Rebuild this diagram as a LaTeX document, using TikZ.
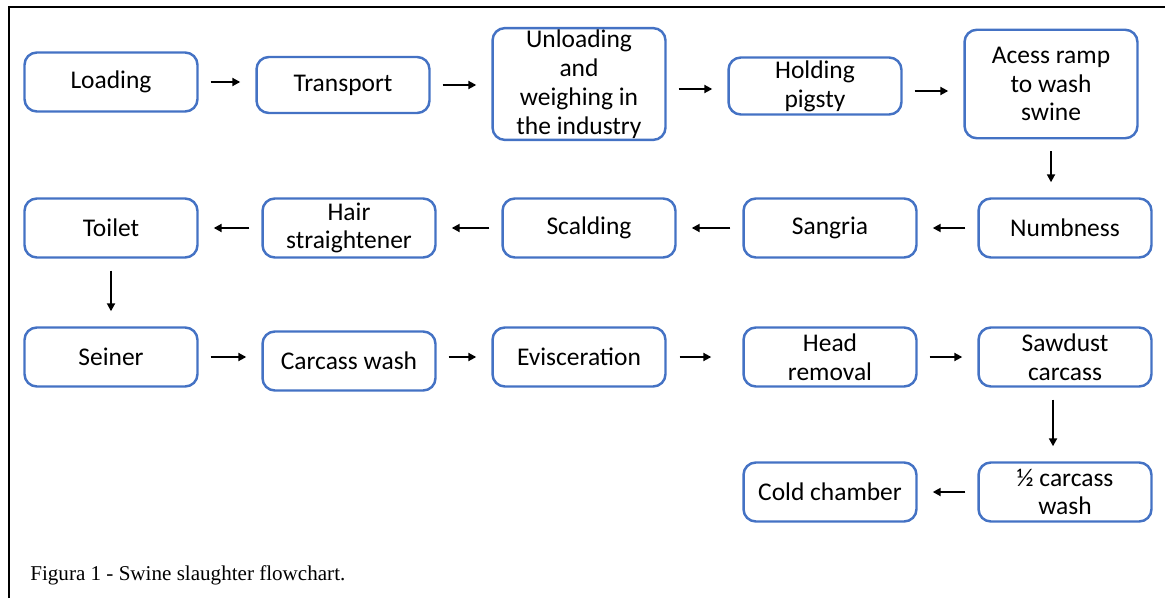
\documentclass[tikz,border=0pt]{standalone}
\usepackage{fontspec}
\setmainfont{Carlito}
\newfontfamily\captionfont{Liberation Serif}
\usetikzlibrary{arrows.meta, positioning}
\definecolor{Boxblue}{RGB}{68,114,196}

\begin{document}
\begin{tikzpicture}[x=0.02cm, y=-0.02cm,
  blk/.style ={rectangle, rounded corners=7pt,
               draw=Boxblue, line width=1.4pt, fill=white,
               minimum width=3.46cm, minimum height=1.18cm,
               inner sep=1pt, align=center,
               font=\fontsize{14.5}{16.4}\selectfont},
  tall/.style={blk, minimum height=2.17cm},
  arr/.style ={-{Stealth[length=4.5pt, width=4.5pt, inset=0pt]},
               line width=1.1pt, shorten <=0.24cm, shorten >=0.3cm},
]
\useasboundingbox (0,0) rectangle (1165,598);

%% frame
\draw[line width=0.8pt] (9,598) -- (9,7) -- (1165,7);

%% row 1
\node[blk]  (loading)   at (111,82)  {Loading};
\node[blk, minimum height=1.12cm]
            (transport) at (343,85)  {Transport};
\node[tall] (unloading) at (579,84)  {Unloading\\and\\weighing in\\the industry};
\node[blk, minimum height=1.14cm]
            (holding)   at (815,86)  {Holding\\pigsty};
\node[tall] (ramp)      at (1051,84) {Acess ramp\\to wash\\swine};

%% row 2
\node[blk]  (numbness)  at (1065,228) {Numbness};
\node[blk]  (sangria)   at (830,228)  {Sangria};
\node[blk]  (scalding)  at (589,228)  {Scalding};
\node[blk]  (hair)      at (349,228)  {Hair\\straightener};
\node[blk]  (toilet)    at (111,228)  {Toilet};

%% row 3
\node[blk]  (seiner)    at (111,357)  {Seiner};
\node[blk]  (carcwash)  at (349,361)  {Carcass wash};
\node[blk]  (evisc)     at (579,357)  {Evisceration};
\node[blk]  (headrem)   at (830,357)  {Head\\removal};
\node[blk]  (sawdust)   at (1065,357) {Sawdust\\carcass};

%% row 4
\node[blk]  (halfwash)  at (1065,492) {½ carcass\\wash};
\node[blk]  (coldch)    at (830,492)  {Cold chamber};

%% arrows
\draw[arr] (loading.east)   -- (loading.east -| transport.west);
\draw[arr] (transport.east) -- (transport.east -| unloading.west);
\draw[arr] ([yshift=-0.1cm]unloading.east) -- ([yshift=-0.1cm]unloading.east -| holding.west);
\draw[arr] ([yshift=-0.1cm]holding.east)   -- ([yshift=-0.1cm]holding.east -| ramp.west);
\draw[arr] (ramp.south)     -- (ramp.south |- numbness.north);

\draw[arr] (numbness.west)  -- (sangria.east);
\draw[arr] (sangria.west)   -- (scalding.east);
\draw[arr] (scalding.west)  -- (hair.east);
\draw[arr] (hair.west)      -- (toilet.east);
\draw[arr] (toilet.south)   -- (seiner.north);

\draw[arr] (seiner.east)    -- (seiner.east -| carcwash.west);
\draw[arr] ([yshift=0.08cm]carcwash.east) -- ([yshift=0.08cm]carcwash.east -| evisc.west);
\draw[arr, shorten <=0.26cm, shorten >=0.62cm] (evisc.east) -- (headrem.west);
\draw[arr] (headrem.east)   -- (sawdust.west);
\draw[arr] ([xshift=-0.24cm]sawdust.south) -- ([xshift=-0.24cm]sawdust.south |- halfwash.north);

\draw[arr] (halfwash.west)  -- (halfwash.west -| coldch.east);

%% caption
\node[anchor=base west, inner sep=0pt,
      font=\captionfont\fontsize{12}{14}\selectfont]
  (caption) at (30,580) {Figura 1 - Swine slaughter flowchart.};

\end{tikzpicture}
\end{document}
